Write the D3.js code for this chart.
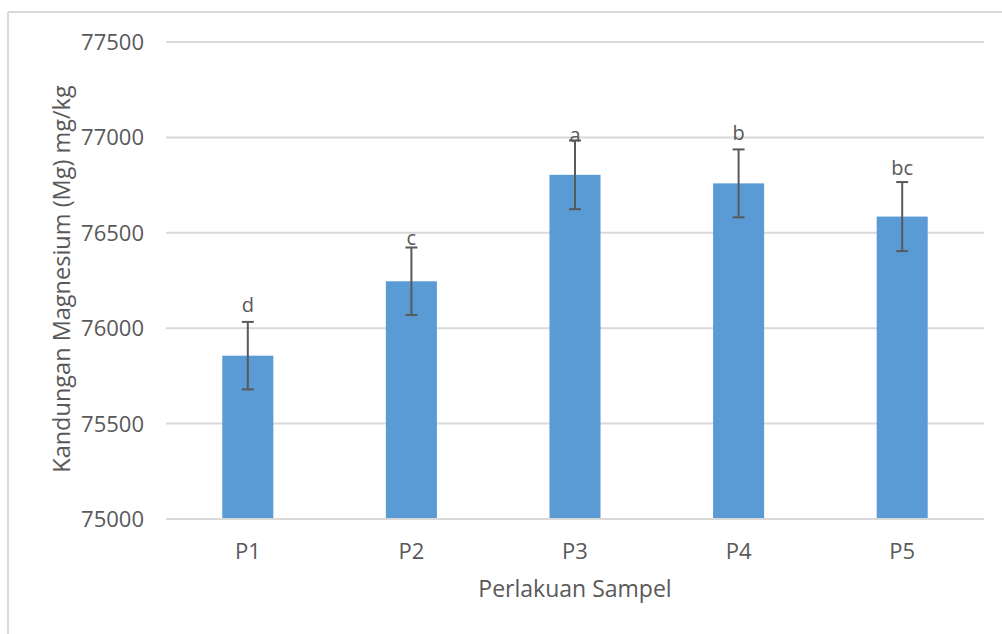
<!DOCTYPE html>
<html>
<head>
<meta charset="utf-8">
<script src="https://cdn.jsdelivr.net/npm/d3@7"></script>
<style>
  html, body { margin: 0; padding: 0; background: #fff; }
  svg { display: block; }
  text { font-family: "Open Sans", sans-serif; fill: #595959; }
</style>
</head>
<body>
<svg id="chart" width="1002" height="634"></svg>
<script>
const categories = ["P1", "P2", "P3", "P4", "P5"];
const values = [75856, 76246, 76804, 76759, 76585];
const errors = [177, 177, 180, 178, 181];
const letters = ["d", "c", "a", "b", "bc"];
const letterAnchors = [76086, 76436, 76977, 76986, 76803];
const yTicks = [75000, 75500, 76000, 76500, 77000, 77500];
const yTitle = "Kandungan Magnesium (Mg) mg/kg";
const xTitle = "Perlakuan Sampel";

const svg = d3.select("#chart");
const W = 1002, H = 634;
const plot = { left: 166, right: 984, top: 42, bottom: 519 };

// outer frame (top and left edges visible)
svg.append("line").attr("x1", 8).attr("x2", W).attr("y1", 12).attr("y2", 12)
  .attr("stroke", "#d9d9d9").attr("stroke-width", 2);
svg.append("line").attr("x1", 8).attr("x2", 8).attr("y1", 12).attr("y2", H)
  .attr("stroke", "#d9d9d9").attr("stroke-width", 2);

const x = d3.scaleBand().domain(categories).range([plot.left, plot.right]).paddingInner(0.688).paddingOuter(0.344);
const y = d3.scaleLinear().domain([75000, 77500]).range([plot.bottom, plot.top]);

// gridlines
svg.append("g").selectAll("line").data(yTicks).join("line")
  .attr("x1", plot.left).attr("x2", plot.right)
  .attr("y1", d => y(d)).attr("y2", d => y(d))
  .attr("stroke", "#d9d9d9").attr("stroke-width", 2);

// y axis labels
const yAxis = d3.axisLeft(y).tickValues(yTicks).tickSize(0).tickPadding(0).tickFormat(d3.format("d"));
const gy = svg.append("g").attr("transform", `translate(144,0)`).call(yAxis);
gy.select(".domain").remove();
gy.selectAll("text").attr("font-size", 22).attr("font-family", "Open Sans").attr("fill", "#595959").attr("dy", "0.34em");

// bars
const data = categories.map((c, i) => ({ c, v: values[i], e: errors[i], l: letters[i], la: letterAnchors[i] }));
svg.append("g").selectAll("rect").data(data).join("rect")
  .attr("x", d => x(d.c)).attr("width", x.bandwidth())
  .attr("y", d => y(d.v)).attr("height", d => y(75000) - y(d.v))
  .attr("fill", "#5b9bd5");

// bottom axis line
svg.append("line").attr("x1", plot.left).attr("x2", plot.right)
  .attr("y1", y(75000)).attr("y2", y(75000)).attr("stroke", "#d9d9d9").attr("stroke-width", 2);

// error bars
const eg = svg.append("g").attr("stroke", "#595959").attr("stroke-width", 2);
data.forEach(d => {
  const cx = x(d.c) + x.bandwidth() / 2;
  eg.append("line").attr("x1", cx).attr("x2", cx).attr("y1", y(d.v + d.e)).attr("y2", y(d.v - d.e));
  eg.append("line").attr("x1", cx - 6).attr("x2", cx + 6).attr("y1", y(d.v + d.e)).attr("y2", y(d.v + d.e));
  eg.append("line").attr("x1", cx - 6).attr("x2", cx + 6).attr("y1", y(d.v - d.e)).attr("y2", y(d.v - d.e));
});

// letters
svg.append("g").selectAll("text").data(data).join("text")
  .attr("x", d => x(d.c) + x.bandwidth() / 2).attr("y", d => y(d.la))
  .attr("text-anchor", "middle").attr("font-size", 20).text(d => d.l);

// x axis labels
const xAxis = d3.axisBottom(x).tickSize(0).tickPadding(0);
const gx = svg.append("g").attr("transform", `translate(0,559)`).call(xAxis);
gx.select(".domain").remove();
gx.selectAll("text").attr("font-size", 22).attr("font-family", "Open Sans").attr("fill", "#595959").attr("dy", 0);

// axis titles
svg.append("text").attr("x", (plot.left + plot.right) / 2).attr("y", 597)
  .attr("text-anchor", "middle").attr("font-size", 23).text(xTitle);
svg.append("text").attr("transform", `translate(70,279) rotate(-90)`)
  .attr("text-anchor", "middle").attr("font-size", 23.5).text(yTitle);
</script>
</body>
</html>
